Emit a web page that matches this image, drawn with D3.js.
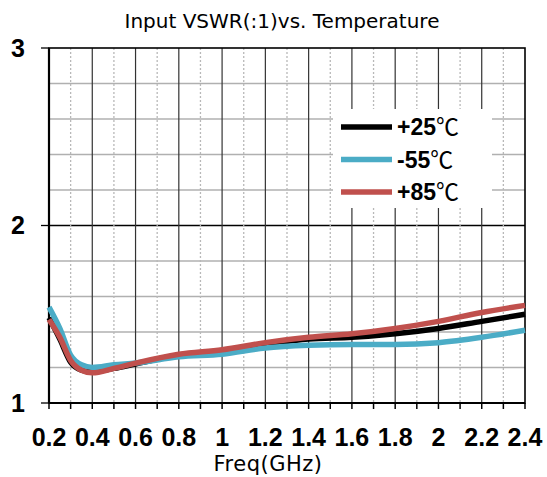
<!DOCTYPE html>
<meta charset="utf-8">
<script src="https://d3js.org/d3.v7.min.js"></script>
<style>
  body { margin: 0; background: #fff; }
  text { font-family: "Liberation Sans", Arial, "Noto Sans CJK SC", sans-serif; }
</style>
<div id="chart"></div>
<script>

// data
var freq     = [0.2, 0.25, 0.3, 0.35, 0.4, 0.5, 0.6, 0.8, 1.0, 1.2, 1.4, 1.6, 1.8, 2.0, 2.2, 2.4];
var vswrP25  = [1.48, 1.36, 1.23, 1.185, 1.175, 1.195, 1.22, 1.27, 1.295, 1.33, 1.36, 1.37, 1.39, 1.42, 1.46, 1.50];
var vswrM55  = [1.54, 1.42, 1.27, 1.215, 1.20, 1.215, 1.225, 1.26, 1.275, 1.31, 1.325, 1.33, 1.33, 1.34, 1.37, 1.41];
var vswrP85  = [1.47, 1.37, 1.24, 1.185, 1.17, 1.195, 1.225, 1.275, 1.30, 1.34, 1.37, 1.39, 1.42, 1.46, 1.51, 1.55];
var seriesNames = ["+25", "-55", "+85"];
var seriesColors = ["#000000", "#4bacc6", "#c0504d"];
var xTicks = [0.2, 0.4, 0.6, 0.8, 1, 1.2, 1.4, 1.6, 1.8, 2, 2.2, 2.4];
var yTicks = [1, 2, 3];

var W = 547, H = 477;
var margin = {top: 48, right: 22, bottom: 74, left: 49},
    width = W - margin.left - margin.right,
    height = H - margin.top - margin.bottom;

var svg = d3.select("#chart").append("svg")
    .attr("width", W)
    .attr("height", H);

var g = svg.append("g")
    .attr("transform", "translate(" + margin.left + "," + margin.top + ")");

var x = d3.scaleLinear().domain([0.2, 2.4]).range([0, width]);
var y = d3.scaleLinear().domain([1, 3]).range([height, 0]);

// minor values every 0.1 / 0.2
var minorX = d3.range(0.3, 2.4, 0.2);
var allX = d3.range(0.2, 2.41, 0.1);
var hGrid = d3.range(1.2, 2.9, 0.2);

// horizontal grid (the line at 2 is black)
g.selectAll(".hgrid")
  .data(hGrid)
  .enter().append("line")
    .attr("x1", 0).attr("x2", width)
    .attr("y1", function(d) { return y(d); })
    .attr("y2", function(d) { return y(d); })
    .style("stroke", function(d) { return Math.abs(d - 2) < 1e-6 ? "#000" : "#b0b0b0"; })
    .style("stroke-width", 1.3);

// dotted vertical grid
g.selectAll(".vminor")
  .data(minorX)
  .enter().append("line")
    .attr("x1", function(d) { return x(d); })
    .attr("x2", function(d) { return x(d); })
    .attr("y1", 0).attr("y2", height)
    .style("stroke", "#b8b8b8")
    .style("stroke-width", 1.3)
    .style("stroke-dasharray", "2,2");

// solid vertical grid
g.selectAll(".vmajor")
  .data(xTicks.slice(1, -1))
  .enter().append("line")
    .attr("x1", function(d) { return x(d); })
    .attr("x2", function(d) { return x(d); })
    .attr("y1", 0).attr("y2", height)
    .style("stroke", "#333")
    .style("stroke-width", 1.2);

// plot frame
g.append("rect")
    .attr("width", width).attr("height", height)
    .style("fill", "none").style("stroke", "#000").style("stroke-width", 1.6);
g.append("line").attr("x1", 0).attr("x2", 0).attr("y1", 0).attr("y2", height)
    .style("stroke", "#000").style("stroke-width", 2.2);
g.append("line").attr("x1", 0).attr("x2", width).attr("y1", height).attr("y2", height)
    .style("stroke", "#000").style("stroke-width", 2.2);

// x ticks (major and minor)
g.selectAll(".xtick")
  .data(allX)
  .enter().append("line")
    .attr("x1", function(d) { return x(d); })
    .attr("x2", function(d) { return x(d); })
    .attr("y1", height).attr("y2", height + 6)
    .style("stroke", "#000").style("stroke-width", 1.5);

// y ticks
g.selectAll(".ytick")
  .data(yTicks)
  .enter().append("line")
    .attr("x1", -8).attr("x2", 0)
    .attr("y1", function(d) { return y(d); })
    .attr("y2", function(d) { return y(d); })
    .style("stroke", "#000").style("stroke-width", 1.3);

// tick labels
g.selectAll(".xlab")
  .data(xTicks)
  .enter().append("text")
    .attr("x", function(d) { return x(d); })
    .attr("y", height + 43)
    .attr("text-anchor", "middle")
    .style("font-size", "25px")
    .style("font-weight", "bold")
    .text(function(d) { return d; });

g.selectAll(".ylab")
  .data(yTicks)
  .enter().append("text")
    .attr("x", -31)
    .attr("y", function(d) { return y(d); })
    .attr("dy", "0.35em")
    .attr("text-anchor", "middle")
    .style("font-size", "25px")
    .style("font-weight", "bold")
    .text(function(d) { return d; });

// curves
var allSeries = [vswrP25, vswrM55, vswrP85];
var line = d3.line()
    .x(function(d, i) { return x(freq[i]); })
    .y(function(d) { return y(d); })
    .curve(d3.curveMonotoneX);

g.selectAll(".curve")
  .data(allSeries)
  .enter().append("path")
    .attr("d", line)
    .style("fill", "none")
    .style("stroke", function(d, i) { return seriesColors[i]; })
    .style("stroke-width", 5.5)
    .style("stroke-linejoin", "round");

// legend
var lg = svg.append("g");
lg.append("rect")
    .attr("x", 333).attr("y", 109)
    .attr("width", 159).attr("height", 99)
    .style("fill", "#fff");

var item = lg.selectAll(".legend")
  .data(seriesNames)
  .enter().append("g")
    .attr("transform", function(d, i) { return "translate(0," + (127 + i * 32.5) + ")"; });

item.append("line")
    .attr("x1", 341).attr("x2", 392)
    .style("stroke", function(d, i) { return seriesColors[i]; })
    .style("stroke-width", 5.5);

var lt = item.append("text")
    .attr("x", 397)
    .attr("dy", "0.36em")
    .style("font-size", "23px")
    .style("font-weight", "bold");
lt.append("tspan").text(function(d) { return d; });
lt.append("tspan")
    .style("font-family", "'Noto Sans CJK SC', sans-serif")
    .style("font-weight", "normal")
    .text("℃");

// title and axis title
svg.append("text")
    .attr("x", 282).attr("y", 28)
    .attr("text-anchor", "middle")
    .style("font-family", "'DejaVu Sans', sans-serif")
    .style("font-size", "20px")
    .text("Input VSWR(:1)vs. Temperature");

svg.append("text")
    .attr("x", 268).attr("y", 471)
    .attr("text-anchor", "middle")
    .style("font-family", "'DejaVu Sans', sans-serif")
    .style("font-size", "21px")
    .style("letter-spacing", "0.5px")
    .text("Freq(GHz)");

</script>
